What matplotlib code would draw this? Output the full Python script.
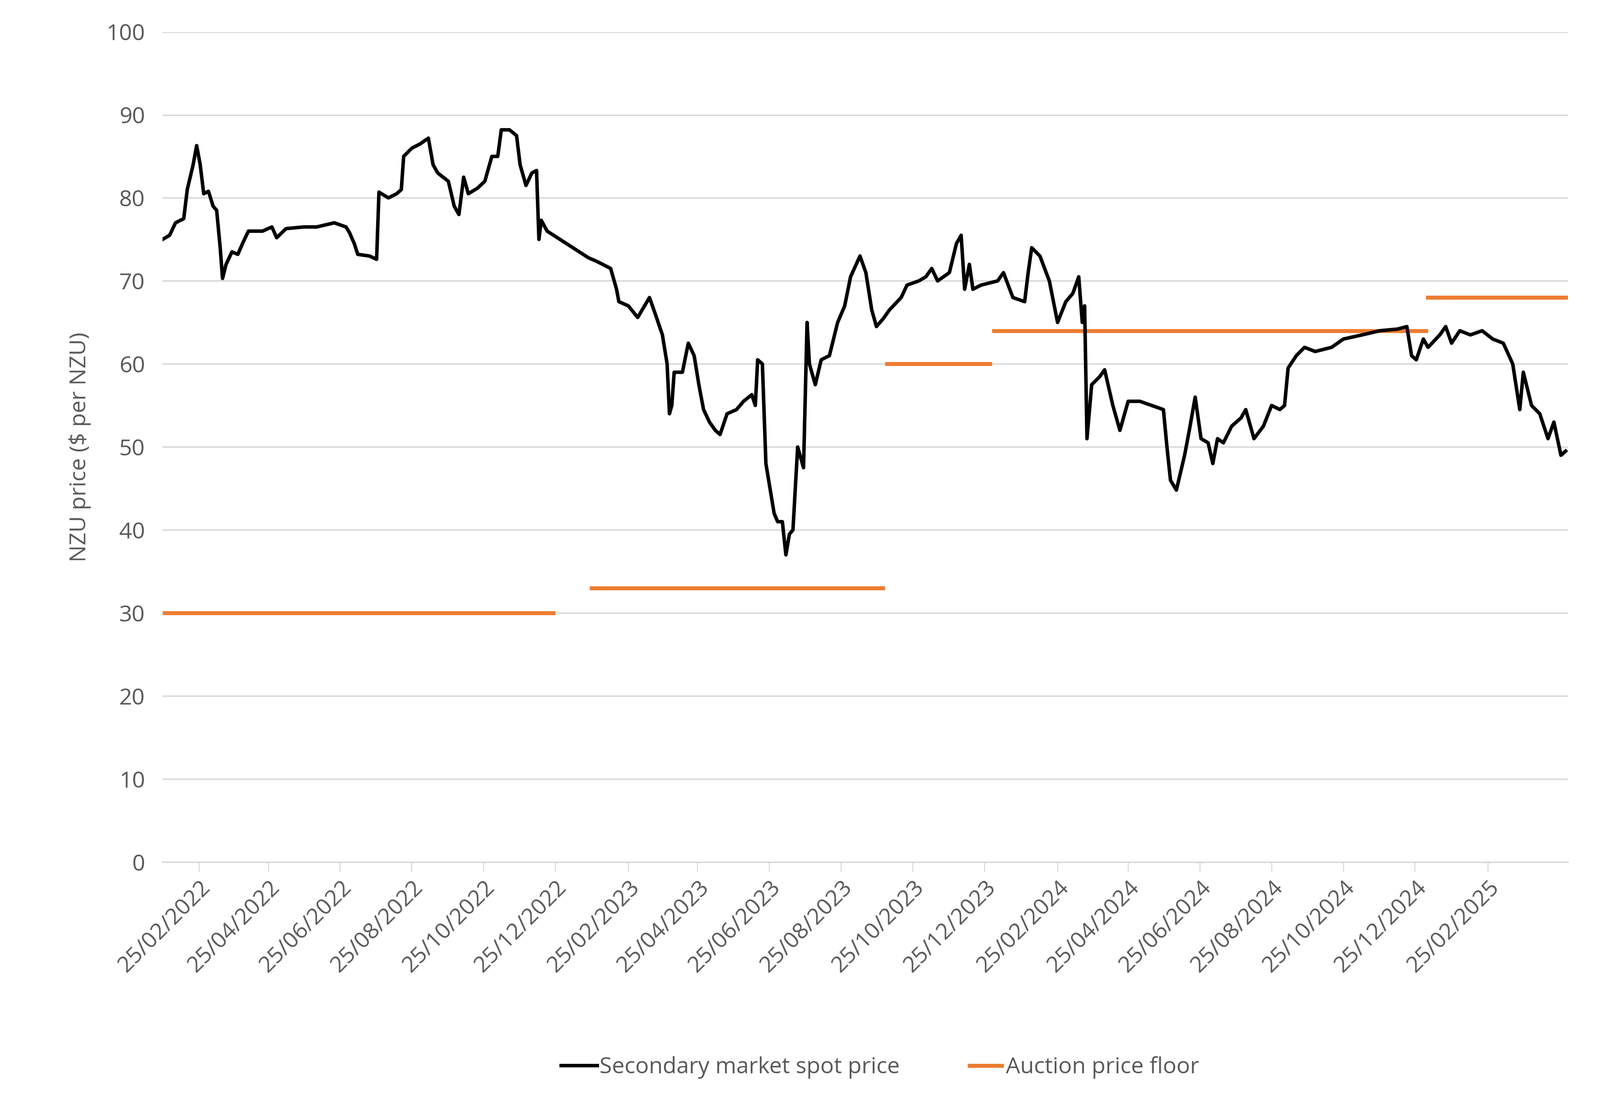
import matplotlib
matplotlib.use("Agg")
import matplotlib.pyplot as plt
import matplotlib.dates as mdates
import pandas as pd

spot_dates = ["2022-01-25","2022-01-31","2022-02-05","2022-02-12","2022-02-15","2022-02-20","2022-02-23","2022-02-26","2022-03-01","2022-03-05","2022-03-09","2022-03-12","2022-03-15","2022-03-17","2022-03-20","2022-03-25","2022-03-30","2022-04-03","2022-04-08","2022-04-20","2022-04-28","2022-05-02","2022-05-10","2022-05-25","2022-06-05","2022-06-20","2022-06-30","2022-07-03","2022-07-07","2022-07-10","2022-07-20","2022-07-26","2022-07-28","2022-08-05","2022-08-12","2022-08-16","2022-08-18","2022-08-25","2022-09-01","2022-09-08","2022-09-12","2022-09-16","2022-09-25","2022-09-30","2022-10-04","2022-10-08","2022-10-12","2022-10-20","2022-10-26","2022-11-01","2022-11-06","2022-11-09","2022-11-16","2022-11-22","2022-11-25","2022-11-30","2022-12-05","2022-12-09","2022-12-11","2022-12-13","2022-12-18","2023-01-22","2023-01-30","2023-02-10","2023-02-15","2023-02-17","2023-02-25","2023-03-05","2023-03-15","2023-03-20","2023-03-26","2023-03-30","2023-04-01","2023-04-03","2023-04-05","2023-04-12","2023-04-17","2023-04-22","2023-04-26","2023-04-30","2023-05-05","2023-05-10","2023-05-14","2023-05-20","2023-05-28","2023-06-03","2023-06-10","2023-06-13","2023-06-15","2023-06-19","2023-06-22","2023-06-29","2023-07-02","2023-07-06","2023-07-09","2023-07-12","2023-07-15","2023-07-17","2023-07-19","2023-07-24","2023-07-27","2023-07-29","2023-08-03","2023-08-08","2023-08-15","2023-08-22","2023-08-28","2023-09-02","2023-09-10","2023-09-15","2023-09-20","2023-09-24","2023-09-30","2023-10-05","2023-10-15","2023-10-20","2023-10-30","2023-11-05","2023-11-10","2023-11-15","2023-11-25","2023-12-01","2023-12-05","2023-12-08","2023-12-12","2023-12-15","2023-12-22","2024-01-05","2024-01-10","2024-01-18","2024-01-28","2024-01-31","2024-02-03","2024-02-10","2024-02-18","2024-02-25","2024-03-03","2024-03-09","2024-03-14","2024-03-17","2024-03-19","2024-03-21","2024-03-25","2024-04-01","2024-04-05","2024-04-12","2024-04-18","2024-04-25","2024-05-05","2024-05-15","2024-05-25","2024-05-28","2024-05-31","2024-06-05","2024-06-12","2024-06-16","2024-06-21","2024-06-26","2024-07-02","2024-07-06","2024-07-10","2024-07-15","2024-07-22","2024-07-30","2024-08-03","2024-08-10","2024-08-18","2024-08-25","2024-09-01","2024-09-05","2024-09-08","2024-09-15","2024-09-22","2024-10-01","2024-10-15","2024-10-25","2024-11-10","2024-11-25","2024-12-10","2024-12-18","2024-12-22","2024-12-26","2025-01-01","2025-01-05","2025-01-15","2025-01-20","2025-01-25","2025-02-01","2025-02-10","2025-02-20","2025-03-01","2025-03-10","2025-03-18","2025-03-24","2025-03-27","2025-04-03","2025-04-10","2025-04-17","2025-04-22","2025-04-28","2025-05-02"]
spot_values = [75,75.5,77,77.5,81,84,86.3,84,80.5,80.8,79,78.5,74,70.3,72,73.5,73.2,74.5,76,76,76.5,75.2,76.3,76.5,76.5,77,76.5,75.8,74.5,73.2,73,72.6,80.7,80,80.5,81,85,86,86.5,87.2,84,83,82,79,78,82.5,80.5,81.2,82,85,85,88.2,88.2,87.5,84,81.5,83,83.3,75,77.3,76,72.8,72.3,71.5,69,67.5,67,65.6,68,66,63.5,60,54,55,59,59,62.5,61,57.5,54.5,53,52,51.5,54,54.5,55.5,56.3,55,60.5,60,48,42,41,41,37,39.5,40,45,50,47.5,65,60,57.5,60.5,61,65,67,70.5,73,71,66.5,64.5,65.5,66.5,68,69.5,70,70.5,71.5,70,71,74.5,75.5,69,72,69,69.5,70,71,68,67.5,71,74,73,70,65,67.5,68.5,70.5,65,67,51,57.5,58.5,59.3,55,52,55.5,55.5,55,54.5,50,46,44.8,49,52,56,51,50.5,48,51,50.5,52.5,53.5,54.5,51,52.5,55,54.5,55,59.5,61,62,61.5,62,63,63.5,64,64.2,64.5,61,60.5,63,62,63.5,64.5,62.5,64,63.5,64,63,62.5,60,54.5,59,55,54,51,53,49,49.5]

floor_starts = ["2022-01-25","2023-01-23","2023-10-01","2023-12-31","2025-01-03"]
floor_ends = ["2022-12-25","2023-10-01","2023-12-31","2025-01-05","2025-05-04"]
floor_values = [30,33,60,64,68]

yticks = list(range(0, 101, 10))
xticks = pd.date_range("2022-01-25", "2025-03-25", freq="2MS") + pd.Timedelta(days=24)

n = min(len(spot_dates), len(spot_values))

plt.rcParams["font.family"] = "Open Sans"
fig = plt.figure(figsize=(17.72, 12.175), dpi=200)
ax = fig.add_axes([0.1016, 0.2156, 0.8784, 0.7554])
grey = "#595959"

for i, (s, e, v) in enumerate(zip(floor_starts, floor_ends, floor_values)):
    ax.plot(pd.to_datetime([s, e]), [v, v], color="#ED7D31", lw=3.2,
            solid_capstyle="butt", label="Auction price floor" if i == 0 else None, zorder=2)
ax.plot(pd.to_datetime(spot_dates[:n]), spot_values[:n], color="black", lw=2.8,
        label="Secondary market spot price", zorder=3)

ax.set_xlim(pd.Timestamp("2022-01-25"), pd.Timestamp("2025-05-04"))
ax.set_ylim(0, 100)
ax.set_yticks(yticks)
ax.set_xticks(xticks)
ax.xaxis.set_major_formatter(mdates.DateFormatter("%d/%m/%Y"))
ax.grid(axis="y", color="#D9D9D9", lw=1.2)
ax.set_axisbelow(True)
for sp in ["top", "right", "left"]:
    ax.spines[sp].set_visible(False)
ax.spines["bottom"].set_color("#D9D9D9")
ax.spines["bottom"].set_linewidth(1.2)
ax.tick_params(axis="y", length=0, labelsize=18, colors=grey, pad=14)
ax.tick_params(axis="x", length=8, color="#D9D9D9", labelsize=18, colors=grey)
plt.setp(ax.get_xticklabels(), rotation=45, ha="right", rotation_mode="anchor")
ax.set_ylabel("NZU price ($ per NZU)", fontsize=18, color=grey, labelpad=12)

h, l = ax.get_legend_handles_labels()
fig.legend(h[::-1], l[::-1], loc="lower center", bbox_to_anchor=(0.55, 0.0), ncol=2,
           frameon=False, fontsize=18, labelcolor=grey, handlelength=1.6,
           handletextpad=0.1, columnspacing=3)
fig.savefig("out.png", dpi=200)
